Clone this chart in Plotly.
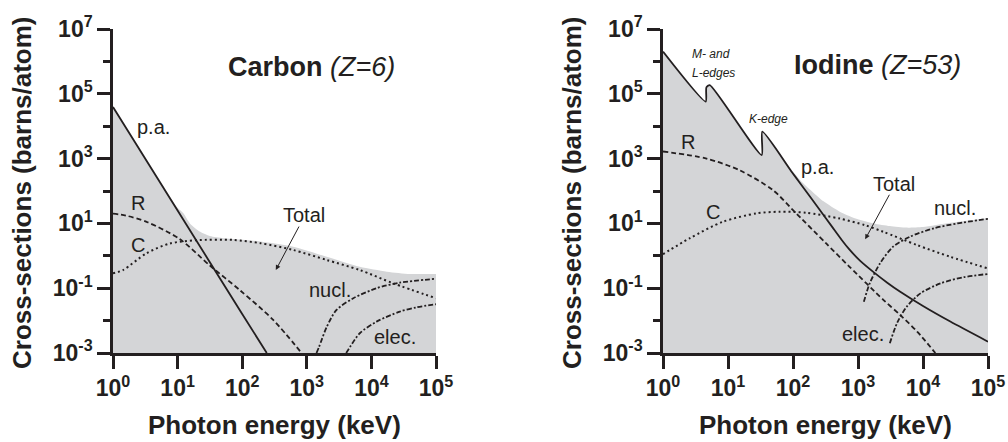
import math
import plotly.graph_objects as go

# ---------------- data (photon energy in keV, cross-section in barns/atom) ----------------
# Carbon (Z=6)
c_pa_E = [1, 10, 100, 240]
c_pa_s = [3.9e4, 25, 0.016, 0.001]

c_R_E = [1, 1.585, 3.31, 10.7, 31.6, 93.3, 302, 832]
c_R_s = [20, 17.4, 11.2, 3.31, 0.50, 0.085, 0.0105, 0.001]

c_C_E = [1, 1.43, 3.31, 7.59, 19.5, 72.4, 191, 617, 2042, 6607, 21880, 1e5]
c_C_s = [0.288, 0.363, 1.20, 2.40, 3.02, 3.09, 2.45, 1.51, 0.741, 0.363, 0.141, 0.049]

c_nucl_E = [1413, 1549, 2042, 2884, 5248, 12020, 27540, 1e5]
c_nucl_s = [0.001, 0.00155, 0.00646, 0.0214, 0.049, 0.10, 0.148, 0.195]

c_elec_E = [4074, 4677, 6607, 12020, 27540, 50120, 1e5]
c_elec_s = [0.001, 0.00155, 0.00407, 0.0093, 0.019, 0.0257, 0.032]

c_tot_E = [1, 3.16, 6.31, 10, 12.3, 15.5, 22.4, 31.6, 51.3, 81.3, 191, 617, 2042, 6607, 17380, 39810, 1e5]
c_tot_s = [3.9e4, 1000, 112, 30.2, 20.4, 10, 5.5, 4.07, 3.47, 3.24, 2.75, 1.91, 0.933, 0.457, 0.324, 0.275, 0.275]

# Iodine (Z=53)
i_pa_E = [1, 4.54, 4.65, 5.25, 33.0, 33.7, 93.3, 132, 257, 398, 562, 741, 1072, 1698, 2818, 4467,
          10000, 26300, 1e5]
i_pa_s = [2.0e6, 5.75e4, 1.58e5, 1.86e5, 1290, 6760, 417, 162, 26.3, 7.94, 3.09, 1.55, 0.708, 0.324,
          0.148, 0.0776, 0.0282, 0.00933, 0.00224]

i_R_E = [1, 4.68, 15.1, 49, 100, 324, 741, 2455, 4467, 8128, 15490]
i_R_s = [1660, 1000, 437, 107, 25.7, 2.40, 0.457, 0.0437, 0.0148, 0.00457, 0.001]

i_C_E = [1, 2.57, 8.32, 27.5, 61.7, 158, 525, 1259, 2455, 8128, 26300, 1e5]
i_C_s = [1.12, 3.47, 11.2, 20.4, 22.9, 21.4, 14.1, 8.91, 5.50, 2.14, 0.933, 0.407]

i_nucl_E = [1230, 1514, 2188, 3467, 6310, 14790, 33880, 1e5]
i_nucl_s = [0.038, 0.141, 0.589, 1.91, 3.89, 7.08, 10.0, 13.8]

i_elec_E = [3090, 3981, 5623, 9120, 18620, 42660, 1e5]
i_elec_s = [0.0020, 0.00832, 0.0269, 0.0692, 0.141, 0.219, 0.275]

i_tot_E = [1, 4.54, 4.65, 5.25, 33.0, 33.7, 93.3, 132, 182, 295, 525, 891, 1738, 3090, 5623, 10000, 26300, 1e5]
i_tot_s = [2.0e6, 5.75e4, 1.58e5, 1.86e5, 1320, 6920, 465, 205, 112, 47.9, 22.9, 14.5, 10, 8.32,
           7.41, 7.76, 10.5, 14.5]

# axes
x_range_E = [1, 1e5]
y_range_s = [1e-3, 1e7]
x_tickvals = [1, 10, 100, 1e3, 1e4, 1e5]
x_ticktext = ["10<sup>0</sup>", "10<sup>1</sup>", "10<sup>2</sup>", "10<sup>3</sup>", "10<sup>4</sup>", "10<sup>5</sup>"]
y_tickvals = [1e-3, 1e-1, 1e1, 1e3, 1e5, 1e7]
y_ticktext = ["10<sup>-3</sup>", "10<sup>-1</sup>", "10<sup>1</sup>", "10<sup>3</sup>", "10<sup>5</sup>", "10<sup>7</sup>"]
y_minorvals = [1e-2, 1, 1e2, 1e4, 1e6]

# ---------------- styling ----------------
W, H = 1008, 442
FONT = "Liberation Sans, Arial, sans-serif"
INK = "#231f20"
FILL = "#d4d5d7"

fig = go.Figure()


def panel(xr, yr, tot_E, tot_s, pa, R, C, nucl, elec, shape):
    # baseline for the shaded "Total" area
    fig.add_trace(go.Scatter(x=x_range_E, y=[y_range_s[0], y_range_s[0]], xaxis=xr, yaxis=yr,
                             mode="lines", line=dict(width=0, color=FILL), showlegend=False,
                             hoverinfo="skip"))
    fig.add_trace(go.Scatter(x=tot_E, y=tot_s, xaxis=xr, yaxis=yr, mode="lines",
                             line=dict(width=0, color=FILL, shape="spline", smoothing=shape),
                             fill="tonexty", fillcolor=FILL, showlegend=False, name="Total"))
    fig.add_trace(go.Scatter(x=C[0], y=C[1], xaxis=xr, yaxis=yr, mode="lines",
                             line=dict(color=INK, width=2, dash="2px,3px", shape="spline", smoothing=0.8),
                             showlegend=False, name="C"))
    fig.add_trace(go.Scatter(x=R[0], y=R[1], xaxis=xr, yaxis=yr, mode="lines",
                             line=dict(color=INK, width=1.8, dash="5px,3px", shape="spline", smoothing=0.8),
                             showlegend=False, name="R"))
    for arr, nm in ((nucl, "nucl."), (elec, "elec.")):
        fig.add_trace(go.Scatter(x=arr[0], y=arr[1], xaxis=xr, yaxis=yr, mode="lines",
                                 line=dict(color=INK, width=1.8, dash="5px,2px,2px,2px", shape="spline",
                                           smoothing=0.8),
                                 showlegend=False, name=nm))
    fig.add_trace(go.Scatter(x=pa[0], y=pa[1], xaxis=xr, yaxis=yr, mode="lines",
                             line=dict(color=INK, width=1.8, shape="spline", smoothing=shape),
                             showlegend=False, name="p.a."))


panel("x", "y", c_tot_E, c_tot_s, (c_pa_E, c_pa_s), (c_R_E, c_R_s), (c_C_E, c_C_s),
      (c_nucl_E, c_nucl_s), (c_elec_E, c_elec_s), 0.7)
panel("x2", "y2", i_tot_E, i_tot_s, (i_pa_E, i_pa_s), (i_R_E, i_R_s), (i_C_E, i_C_s),
      (i_nucl_E, i_nucl_s), (i_elec_E, i_elec_s), 0.6)


def xaxis_cfg(domain, anchor):
    return dict(type="log", range=[0, 5], domain=domain, anchor=anchor, automargin=False,
                tickmode="array", tickvals=x_tickvals, ticktext=x_ticktext,
                ticks="outside", ticklen=13, tickwidth=2.5, tickcolor=INK,
                showline=True, linewidth=2.5, linecolor=INK, showgrid=False, zeroline=False,
                tickfont=dict(family=FONT, size=23, color=INK, weight="bold"))


def yaxis_cfg(domain, anchor):
    return dict(type="log", range=[-3, 7], domain=domain, anchor=anchor, automargin=False,
                tickmode="array", tickvals=y_tickvals, ticktext=y_ticktext,
                ticks="outside", ticklen=13, tickwidth=2.5, tickcolor=INK,
                minor=dict(tickmode="array", tickvals=y_minorvals, ticks="outside", ticklen=7,
                           tickwidth=2.5, tickcolor=INK, showgrid=False),
                showline=True, linewidth=2.5, linecolor=INK, showgrid=False, zeroline=False,
                tickfont=dict(family=FONT, size=23, color=INK, weight="bold"))


ydom = [1 - 353 / H, 1 - 29 / H]
fig.update_layout(
    width=W, height=H,
    margin=dict(l=0, r=0, t=0, b=0, pad=0, autoexpand=False),
    paper_bgcolor="white", plot_bgcolor="white",
    font=dict(family=FONT, color=INK),
    xaxis=xaxis_cfg([113 / W, 436 / W], "y"),
    yaxis=yaxis_cfg(ydom, "x"),
    xaxis2=xaxis_cfg([663 / W, 988 / W], "y2"),
    yaxis2=yaxis_cfg(ydom, "x2"),
)

ann = []


def lab(text, x, y, xr, yr, size=20, **kw):
    # data-referenced labels on log axes are positioned in log10 units
    if xr != "paper":
        x, y = math.log10(x), math.log10(y)
    d = dict(text=text, x=x, y=y, xref=xr, yref=yr, showarrow=False,
             xanchor="center", yanchor="middle",
             font=dict(family=FONT, size=size, color=INK))
    d.update(kw)
    ann.append(d)


def arrow(x, y, xr, yr, ax, ay):
    ann.append(dict(text="", x=math.log10(x), y=math.log10(y), xref=xr, yref=yr, ax=ax, ay=ay,
                    showarrow=True, arrowhead=2, arrowsize=1, arrowwidth=1, arrowcolor=INK))


# panel titles
lab("<b>Carbon</b> <i>(Z=6)</i>", 311 / W, 1 - 67 / H, "paper", "paper", size=27)
lab("<b>Iodine</b> <i>(Z=53)</i>", 877 / W, 1 - 65 / H, "paper", "paper", size=27)

# axis titles
for cx, ytx in [(274.5, 22), (825.5, 572)]:
    lab("<b>Photon energy (keV)</b>", cx / W, 1 - 425 / H, "paper", "paper", size=26)
    lab("<b>Cross-sections (barns/atom)</b>", ytx / W, 1 - 193 / H, "paper", "paper", size=26,
        textangle=-90)

# carbon curve labels
lab("p.a.", 4.3, 9.5e3, "x", "y")
lab("R", 2.45, 43, "x", "y")
lab("C", 2.45, 2.1, "x", "y")
lab("Total", 910, 18, "x", "y")
lab("nucl.", 2290, 0.085, "x", "y")
lab("elec.", 23400, 0.0032, "x", "y")
arrow(331, 0.363, "x", "y", 24, -45)

# iodine curve labels
lab("p.a.", 240, 550, "x2", "y2")
lab("R", 2.43, 3240, "x2", "y2")
lab("C", 5.9, 22, "x2", "y2")
lab("Total", 3550, 166, "x2", "y2")
lab("nucl.", 31000, 30, "x2", "y2")
lab("elec.", 1200, 0.0039, "x2", "y2")
lab("<i>M- and</i>", 2.6, 1.74e6, "x2", "y2", size=12, xanchor="left")
lab("<i>L-edges</i>", 2.6, 4.4e5, "x2", "y2", size=12, xanchor="left")
lab("<i>K-edge</i>", 42.7, 1.66e4, "x2", "y2", size=12)
arrow(1290, 3.24, "x2", "y2", 25, -46)

fig.update_layout(annotations=ann)
fig.write_html("out.html", config={"displayModeBar": False},
               post_script="document.body.style.margin='0';")
